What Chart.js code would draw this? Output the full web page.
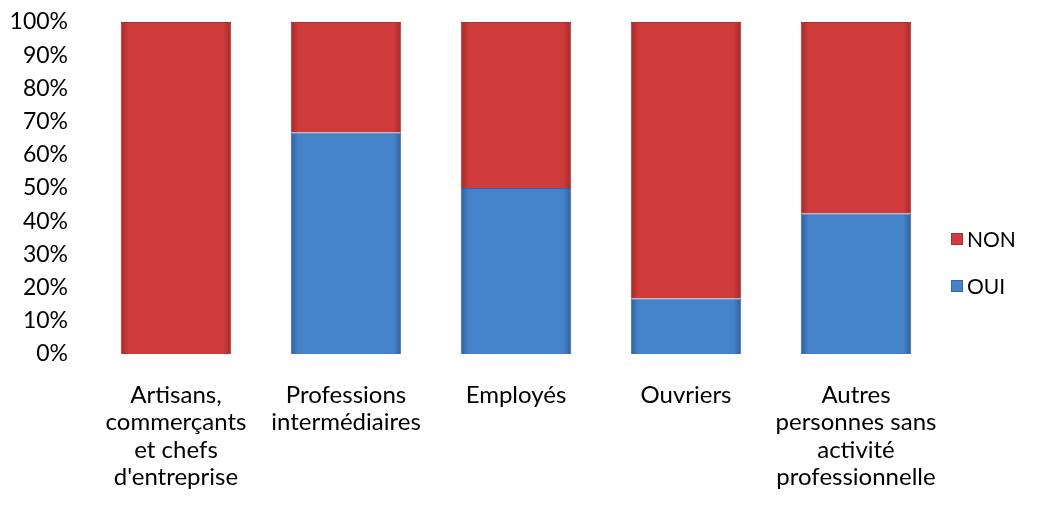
<!DOCTYPE html>
<html>
<head>
<meta charset="utf-8">
<script src="https://cdn.jsdelivr.net/npm/chart.js@4/dist/chart.umd.min.js"></script>
<style>
  html, body { margin: 0; padding: 0; background: #fff; }
  #wrap { width: 1061px; height: 510px; }
</style>
</head>
<body>
<div id="wrap"><canvas id="chart"></canvas></div>
<script>
// catégories et valeurs (en %)
const categories = [
    ['Artisans,', 'commerçants', 'et chefs', "d'entreprise"],
    ['Professions', 'intermédiaires'],
    'Employés',
    'Ouvriers',
    ['Autres', 'personnes sans', 'activité', 'professionnelle'],
];
const ouiValues = [0, 66.7, 50, 16.7, 42.3];
const nonValues = [100, 33.3, 50, 83.3, 57.7];

const FONT = 'Lato, "Open Sans", sans-serif';
const BAR_SHARE = 0.65;

// dégradé horizontal : bords plus sombres
const barGradient = (light, dark) => (ctx) => {
    const chart = ctx.chart;
    const xScale = chart.scales && chart.scales.x;
    if (!xScale || !chart.chartArea) return light;
    const cx = xScale.getPixelForValue(ctx.dataIndex);
    const half = (chart.chartArea.width / categories.length) * BAR_SHARE / 2;
    if (!Number.isFinite(cx) || !Number.isFinite(half) || half <= 0) return light;
    const g = chart.ctx.createLinearGradient(cx - half, 0, cx + half, 0);
    g.addColorStop(0, dark);
    g.addColorStop(0.07, light);
    g.addColorStop(0.93, light);
    g.addColorStop(1, dark);
    return g;
};

// légende dessinée à droite (carré + libellé)
const sideLegend = {
    id: 'sideLegend',
    afterDraw(chart) {
        const { ctx } = chart;
        const items = [
            { ds: chart.data.datasets[1], y: 239 },
            { ds: chart.data.datasets[0], y: 286 },
        ];
        ctx.save();
        ctx.font = `21px ${FONT}`;
        ctx.textBaseline = 'middle';
        items.forEach(({ ds, y }) => {
            ctx.fillStyle = ds.legendColor;
            ctx.fillRect(951, y - 6, 12, 12);
            ctx.strokeStyle = ds.borderColor;
            ctx.lineWidth = 1;
            ctx.strokeRect(951.5, y - 5.5, 11, 11);
            ctx.fillStyle = '#000';
            ctx.fillText(ds.label, 967, y + 1);
        });
        ctx.restore();
    },
};

new Chart(document.getElementById('chart'), {
    type: 'bar',
    data: {
        labels: categories,
        datasets: [
            {
                label: 'OUI',
                data: ouiValues,
                backgroundColor: barGradient('#4682c8', '#2f5f98'),
                legendColor: '#4682c8',
                borderColor: '#36689f',
                borderWidth: 1,
            },
            {
                label: 'NON',
                data: nonValues,
                backgroundColor: barGradient('#d03b3b', '#a12a2a'),
                legendColor: '#d03b3b',
                borderColor: '#a83030',
                borderWidth: 1,
            },
        ],
    },
    plugins: [sideLegend],
    options: {
        responsive: true,
        maintainAspectRatio: false,
        animation: false,
        layout: { padding: { top: 22, right: 120, bottom: 0, left: 9 } },
        datasets: { bar: { categoryPercentage: BAR_SHARE, barPercentage: 1 } },
        scales: {
            x: {
                stacked: true,
                grid: { display: false },
                border: { display: false },
                afterFit: (scale) => { scale.height = 156; },
                ticks: {
                    color: '#000',
                    font: { family: FONT, size: 24, lineHeight: 1.15 },
                    maxRotation: 0,
                    autoSkip: false,
                    padding: 19,
                },
            },
            y: {
                stacked: true,
                min: 0,
                max: 100,
                grid: { display: false, tickLength: 23 },
                border: { display: false },
                afterFit: (scale) => { scale.width = 82; },
                ticks: {
                    stepSize: 10,
                    autoSkip: false,
                    color: '#000',
                    font: { family: FONT, size: 23 },
                    padding: 0,
                    callback: (v) => `${v}%`,
                },
            },
        },
        plugins: {
            legend: { display: false },
            tooltip: { enabled: false },
        },
    },
});
</script>
</body>
</html>
